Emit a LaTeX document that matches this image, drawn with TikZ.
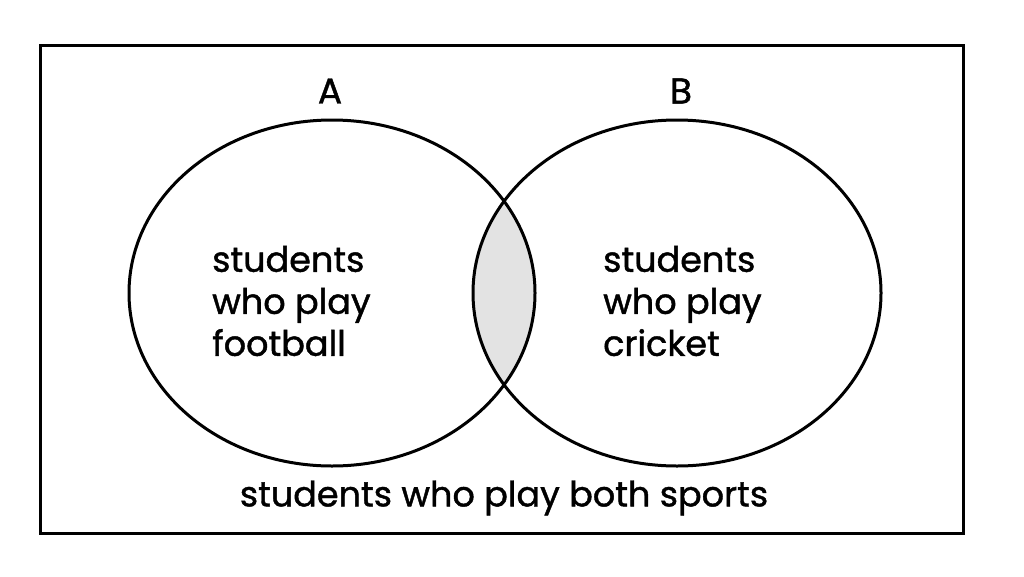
\documentclass[tikz,border=0pt]{standalone}
\usepackage{fontspec}
\setmainfont{Poppins}[FakeBold=1.2]
\begin{document}
\begin{tikzpicture}[x=1pt,y=-1pt,
  line/.style={line width=3pt,black},
  lbl/.style={font=\fontsize{35}{42}\selectfont,align=left,anchor=west,inner sep=0pt},
  big/.style={font=\fontsize{36}{40}\selectfont}]
\useasboundingbox (0,0) rectangle (1024,576);
\begin{scope}
  \clip (332,293) ellipse [x radius=203,y radius=173];
  \fill[gray!22] (677,293) ellipse [x radius=204,y radius=173];
\end{scope}
\draw[line] (40,45) rectangle (963,533);
\draw[line] (332,293) ellipse [x radius=203,y radius=173];
\draw[line] (677,293) ellipse [x radius=204,y radius=173];
\node[big] (A) at (330,91) {A};
\node[big] (B) at (681,91) {B};
\node[lbl] (fa) at (212,301) {students\\who play\\football};
\node[lbl] (cr) at (603,301) {students\\who play\\cricket};
\node[font=\fontsize{35}{40}\selectfont] (both) at (504,498) {students who play both sports};
\end{tikzpicture}
\end{document}
